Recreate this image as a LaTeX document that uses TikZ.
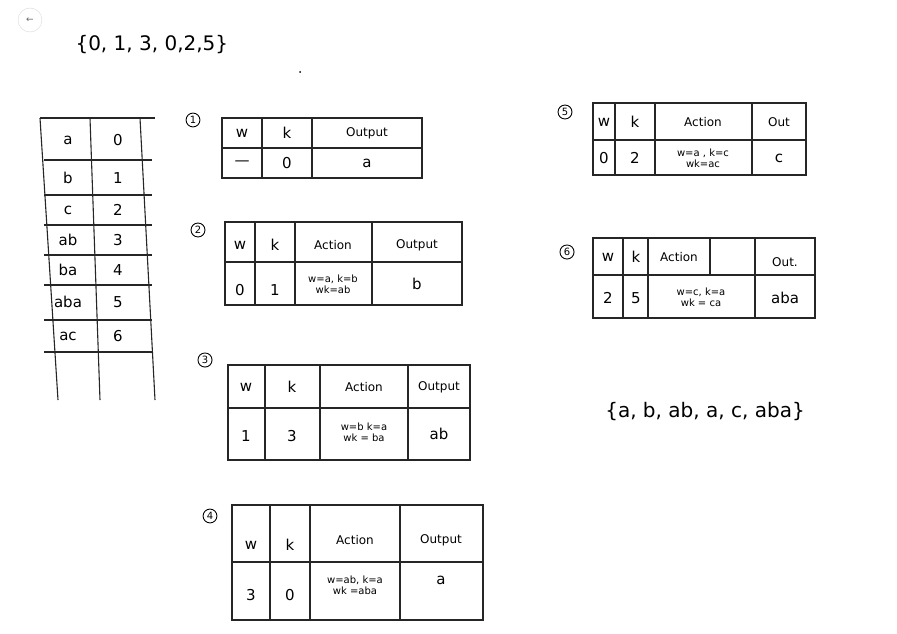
\documentclass[tikz,border=0pt]{standalone}
\usepackage{fontspec}
\setmainfont{DejaVu Sans}
\begin{document}
\begin{tikzpicture}[x=1pt,y=-1pt,
  ln/.style={line width=1.1pt,black!85},
  tx/.style={font=\fontsize{15}{17}\selectfont},
  sm/.style={font=\fontsize{10}{11}\selectfont,align=center},
  hd/.style={font=\fontsize{12}{13}\selectfont},
  lab/.style={circle,draw,line width=0.9pt,inner sep=1.5pt,font=\fontsize{10}{11}\selectfont}]
\useasboundingbox[fill=white] (0,0) rectangle (897,634);
% back button
\node[circle,draw=black!15,fill=white,minimum size=24pt,text=black!60,font=\small] (back) at (30,20) {←};
\node[tx,anchor=west,font=\fontsize{20}{22}\selectfont] (seq) at (72,45) {\{0, 1, 3, 0,2,5\}};
\fill (300,72) circle (1pt);
% dictionary
\draw[ln] (40,118) -- (155,118);
\draw[ln] (40,118) -- (58,400) (90,118) -- (100,400) (140,118) -- (155,400);
\foreach \y in {160,195,225,255,285,320,352}{\draw[ln] (44,\y) -- (152,\y);}
\foreach \t/\n [count=\i] in {a/0,b/1,c/2,ab/3,ba/4,aba/5,ac/6}{
  \pgfmathsetmacro\yy{{0,140,178,210,240,270,302,336}[\i]}
  \node[tx] (d\i) at (68,\yy) {\t};
  \node[tx] (n\i) at (118,\yy) {\n};
}
% table 1
\node[lab] (l1) at (193,120) {1};
\draw[ln] (222,118) rectangle (422,178) (222,148) -- (422,148) (262,118) -- (262,178) (312,118) -- (312,178);
\node[tx] (t1a) at (242,133) {w}; \node[tx] (t1b) at (287,133) {k}; \node[hd] (t1c) at (367,133) {Output};
\node[tx] (t1d) at (242,163) {—}; \node[tx] (t1e) at (287,163) {0}; \node[tx] (t1f) at (367,163) {a};
% table 2
\node[lab] (l2) at (198,230) {2};
\draw[ln] (225,222) rectangle (462,305) (225,262) -- (462,262) (255,222) -- (255,305) (295,222) -- (295,305) (372,222) -- (372,305);
\node[tx] (t2a) at (240,245) {w}; \node[tx] (t2b) at (275,245) {k}; \node[hd] (t2c) at (333,245) {Action}; \node[hd] (t2d) at (417,245) {Output};
\node[tx] (t2e) at (240,290) {0}; \node[tx] (t2f) at (275,290) {1}; \node[sm] (t2g) at (333,284) {w=a, k=b\\wk=ab}; \node[tx] (t2h) at (417,284) {b};
% table 3
\node[lab] (l3) at (205,360) {3};
\draw[ln] (228,365) rectangle (470,460) (228,408) -- (470,408) (265,365) -- (265,460) (320,365) -- (320,460) (408,365) -- (408,460);
\node[tx] (t3a) at (246,387) {w}; \node[tx] (t3b) at (292,387) {k}; \node[hd] (t3c) at (364,387) {Action}; \node[hd] (t3d) at (439,387) {Output};
\node[tx] (t3e) at (246,436) {1}; \node[tx] (t3f) at (292,436) {3}; \node[sm] (t3g) at (364,432) {w=b  k=a\\wk = ba}; \node[tx] (t3h) at (439,434) {ab};
% table 4
\node[lab] (l4) at (210,516) {4};
\draw[ln] (232,505) rectangle (483,620) (232,562) -- (483,562) (270,505) -- (270,620) (310,505) -- (310,620) (400,505) -- (400,620);
\node[tx] (t4a) at (251,545) {w}; \node[tx] (t4b) at (290,545) {k}; \node[hd] (t4c) at (355,540) {Action}; \node[hd] (t4d) at (441,540) {Output};
\node[tx] (t4e) at (251,595) {3}; \node[tx] (t4f) at (290,595) {0}; \node[sm] (t4g) at (355,585) {w=ab, k=a\\wk =aba}; \node[tx] (t4h) at (441,580) {a};
% table 5
\node[lab] (l5) at (565,112) {5};
\draw[ln] (593,103) rectangle (806,175) (593,140) -- (806,140) (615,103) -- (615,175) (655,103) -- (655,175) (752,103) -- (752,175);
\node[tx] (t5a) at (604,122) {w}; \node[tx] (t5b) at (635,122) {k}; \node[hd] (t5c) at (703,122) {Action}; \node[hd] (t5d) at (779,122) {Out};
\node[tx] (t5e) at (604,158) {0}; \node[tx] (t5f) at (635,158) {2}; \node[sm] (t5g) at (703,158) {w=a , k=c\\wk=ac}; \node[tx] (t5h) at (779,158) {c};
% table 6
\node[lab] (l6) at (567,252) {6};
\draw[ln] (593,238) rectangle (815,318) (593,275) -- (815,275) (623,238) -- (623,318) (648,238) -- (648,318) (710,238) -- (710,275) (755,238) -- (755,318);
\node[tx] (t6a) at (608,257) {w}; \node[tx] (t6b) at (636,257) {k}; \node[hd] (t6c) at (679,257) {Action}; \node[hd] (t6d) at (785,262) {Out.};
\node[tx] (t6e) at (608,298) {2}; \node[tx] (t6f) at (636,298) {5}; \node[sm] (t6g) at (701,297) {w=c, k=a\\wk = ca}; \node[tx] (t6h) at (785,298) {aba};
% result
\node[tx,font=\fontsize{20}{22}\selectfont] (res) at (705,412) {\{a, b, ab, a, c, aba\}};
\end{tikzpicture}
\end{document}
